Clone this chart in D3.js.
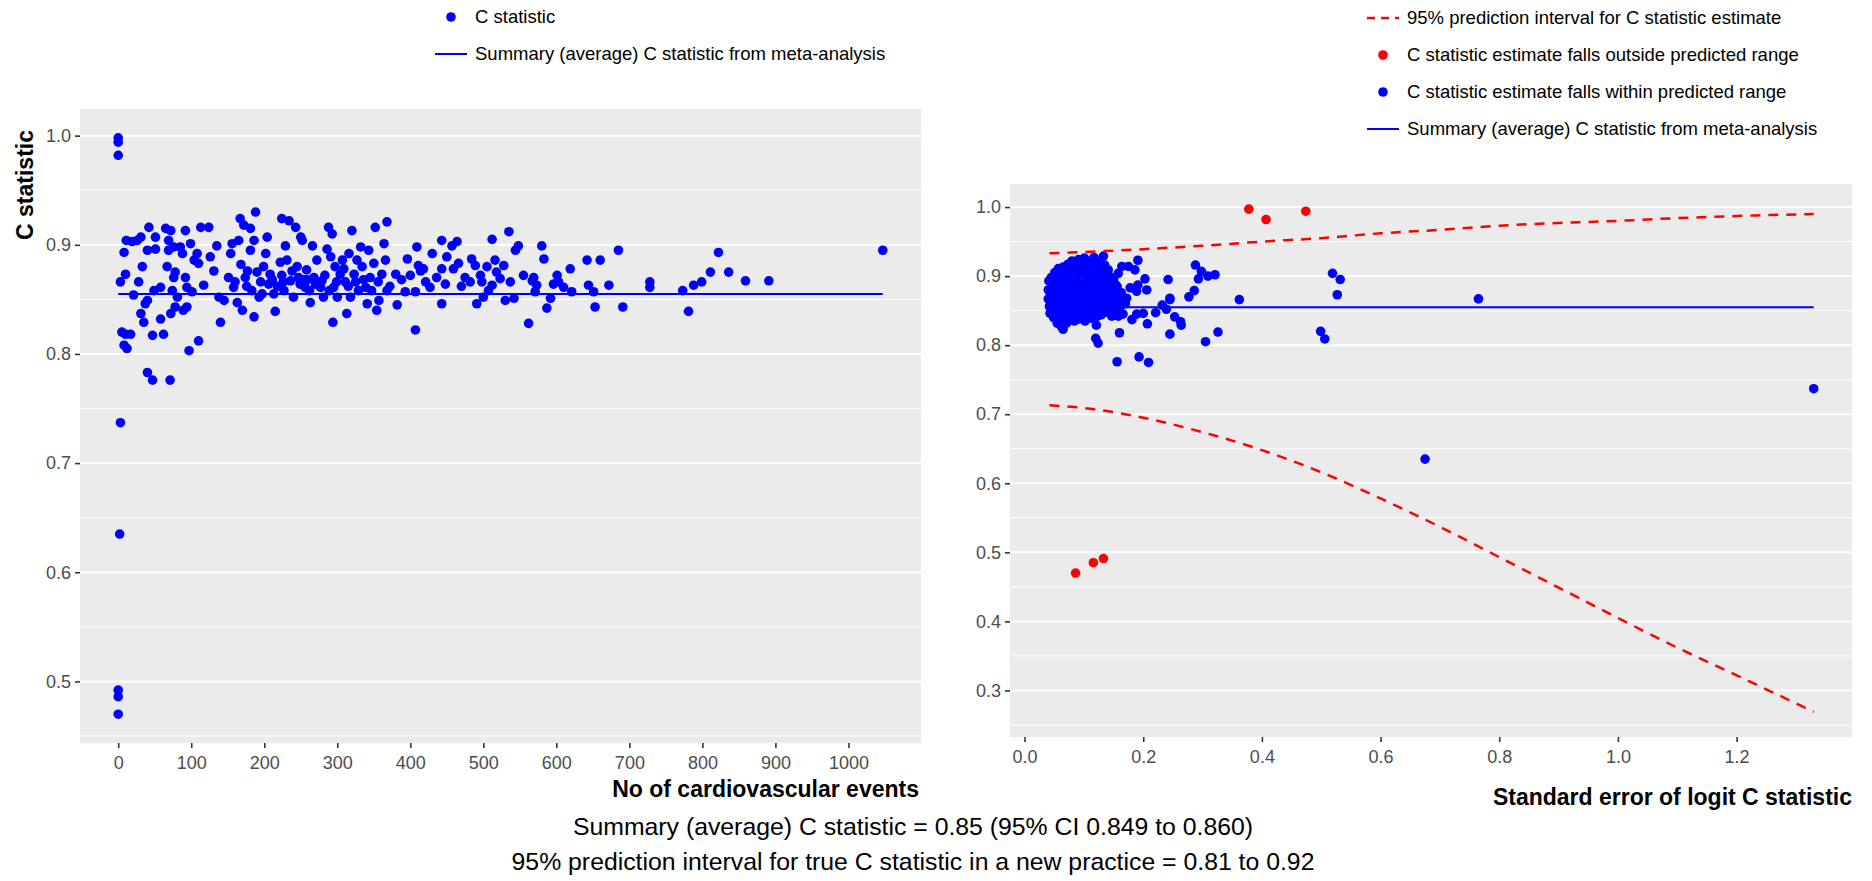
<!DOCTYPE html>
<html>
<head>
<meta charset="utf-8">
<script src="https://cdn.jsdelivr.net/npm/d3@7/dist/d3.min.js"></script>
<style>
body{margin:0;background:#fff;}
svg{display:block;font-family:"Liberation Sans",Arial,Helvetica,sans-serif;}
</style>
</head>
<body>
<div id="container"></div>
<script>
// summary C statistic from the meta-analysis
var summaryC=0.855;

// left plot: [no of cardiovascular events, C statistic]
var eventPoints=[
[0,0.998],[0,0.994],[0,0.982],[3,0.737],[2,0.635],[0,0.492],[0,0.486],[0,0.470],
[3,0.866],[10,0.873],[8,0.893],[11,0.904],[19,0.903],[21,0.854],[5,0.820],[10,0.818],[17,0.818],[8,0.808],[12,0.805],
[26,0.904],[31,0.907],[33,0.880],[28,0.866],[31,0.837],[35,0.829],[37,0.846],[40,0.849],[42,0.916],[40,0.895],
[51,0.907],[51,0.896],[49,0.858],[58,0.861],[58,0.832],[47,0.817],[40,0.783],[47,0.776],[62,0.818],
[65,0.915],[67,0.880],[69,0.904],[72,0.913],[69,0.895],[76,0.898],[76,0.870],[78,0.875],[74,0.858],[72,0.837],[78,0.843],[81,0.852],[71,0.776],
[85,0.898],[92,0.913],[88,0.892],[92,0.870],[94,0.861],[89,0.840],[94,0.843],[101,0.857],[97,0.803],[110,0.812],
[99,0.901],[104,0.886],[108,0.892],[110,0.883],[113,0.916],[117,0.863],[124,0.916],[126,0.889],[131,0.876],[135,0.899],[138,0.852],[140,0.829],[145,0.849],
[151,0.870],[154,0.892],[156,0.901],[158,0.861],[163,0.847],[165,0.904],[167,0.924],[170,0.840],[172,0.918],[174,0.870],[177,0.876],[181,0.915],[181,0.895],
[183,0.858],[186,0.904],[186,0.834],[188,0.930],[190,0.875],[193,0.852],[197,0.855],[202,0.892],[204,0.907],[206,0.864],[208,0.873],[213,0.855],[215,0.839],
[222,0.884],[224,0.924],[224,0.872],[227,0.858],[229,0.899],[231,0.886],[234,0.922],[236,0.867],[240,0.852],[243,0.916],[245,0.880],[247,0.870],[250,0.907],
[252,0.904],[254,0.868],[256,0.861],[259,0.868],[263,0.847],[266,0.899],[268,0.870],[272,0.886],[277,0.861],[279,0.867],[281,0.852],[286,0.896],[288,0.916],
[291,0.889],[293,0.910],[294,0.829],[295,0.861],[297,0.880],[300,0.852],[304,0.873],[307,0.886],[311,0.866],[313,0.837],[316,0.892],[318,0.852],[320,0.913],
[323,0.873],[327,0.886],[329,0.858],[332,0.898],[334,0.880],[339,0.861],[341,0.846],[343,0.895],[345,0.870],[350,0.883],[352,0.916],[354,0.840],[357,0.849],
[361,0.873],[364,0.901],[366,0.886],[368,0.921],[368,0.858],[380,0.873],[382,0.845],
[393,0.857],[396,0.887],[407,0.857],[407,0.822],[409,0.898],[411,0.881],[414,0.876],[418,0.878],[421,0.866],[427,0.861],[430,0.892],[443,0.904],[443,0.878],
[443,0.846],[448,0.864],[450,0.889],[457,0.899],[459,0.878],[464,0.903],[466,0.883],[475,0.870],[482,0.866],[484,0.887],[489,0.881],[491,0.846],[496,0.872],
[498,0.866],[500,0.852],[505,0.880],[507,0.858],[512,0.905],[512,0.863],[516,0.886],[523,0.869],[528,0.881],[530,0.849],[535,0.912],[537,0.866],[542,0.851],
[544,0.895],[548,0.899],[562,0.828],[567,0.867],[569,0.870],[571,0.857],[573,0.863],[580,0.899],[583,0.887],[587,0.842],[592,0.851],[601,0.872],[603,0.866],
[610,0.861],[619,0.878],[621,0.857],[642,0.886],[644,0.863],[651,0.857],[653,0.843],[660,0.886],[672,0.863],[685,0.895],[691,0.843],[728,0.866],[728,0.861],
[773,0.858],[781,0.839],[788,0.863],[799,0.866],[811,0.875],[822,0.893],[836,0.875],[859,0.867],[891,0.867],[1047,0.895],
// overlapping points in the dense middle of the cloud
[160,0.866],[168,0.882],[176,0.862],[195,0.866],[199,0.880],[211,0.868],[218,0.862],[226,0.866],[238,0.876],[249,0.864],
[258,0.877],[262,0.858],[270,0.864],[283,0.872],[289,0.858],[299,0.866],[309,0.878],[315,0.862],[325,0.866],[336,0.868],
[347,0.858],[356,0.866],[372,0.862],[388,0.868],[400,0.872],[436,0.870],[470,0.862],[518,0.875],[555,0.872],[596,0.864]
];

// right plot: [standard error of logit C, C statistic], inside the prediction interval
var seInside=[
[0.040,0.867],[0.040,0.880],[0.041,0.893],[0.042,0.856],[0.043,0.846],[0.044,0.872],[0.045,0.898],[0.047,0.862],[0.048,0.887],[0.049,0.840],
[0.050,0.876],[0.051,0.905],[0.052,0.851],[0.053,0.866],[0.054,0.893],[0.055,0.832],[0.056,0.882],[0.057,0.911],[0.058,0.858],[0.059,0.845],
[0.060,0.871],[0.061,0.899],[0.062,0.827],[0.063,0.886],[0.064,0.864],[0.065,0.913],[0.066,0.839],[0.067,0.852],[0.068,0.878],[0.069,0.903],
[0.070,0.868],[0.071,0.832],[0.072,0.890],[0.073,0.917],[0.074,0.846],[0.075,0.859],[0.076,0.881],[0.077,0.908],[0.078,0.838],[0.079,0.873],
[0.080,0.922],[0.081,0.895],[0.082,0.853],[0.083,0.866],[0.084,0.835],[0.085,0.884],[0.086,0.912],[0.087,0.847],[0.088,0.876],[0.089,0.900],
[0.090,0.861],[0.091,0.924],[0.092,0.838],[0.093,0.889],[0.094,0.870],[0.095,0.852],[0.096,0.915],[0.097,0.880],[0.098,0.843],[0.099,0.903],
[0.100,0.864],[0.101,0.926],[0.102,0.835],[0.103,0.892],[0.104,0.874],[0.105,0.856],[0.106,0.910],[0.107,0.884],[0.108,0.846],[0.109,0.920],
[0.110,0.868],[0.111,0.898],[0.112,0.839],[0.113,0.879],[0.114,0.858],[0.115,0.906],[0.116,0.887],[0.117,0.927],[0.118,0.849],[0.119,0.871],
[0.120,0.895],[0.121,0.862],[0.122,0.917],[0.123,0.842],[0.124,0.882],[0.125,0.903],[0.126,0.854],[0.127,0.873],[0.128,0.891],[0.129,0.844],
[0.130,0.866],[0.131,0.912],[0.132,0.880],[0.133,0.857],[0.134,0.897],[0.136,0.848],[0.137,0.871],[0.138,0.886],[0.139,0.862],[0.140,0.904],
[0.142,0.877],[0.143,0.851],[0.144,0.891],[0.146,0.866],[0.147,0.842],[0.148,0.881],[0.150,0.895],[0.151,0.858],[0.152,0.873],[0.154,0.848],
[0.156,0.885],[0.158,0.864],[0.160,0.853],[0.163,0.876],[0.166,0.845],[0.170,0.860],
[0.046,0.883],[0.050,0.860],[0.053,0.879],[0.056,0.869],[0.058,0.896],[0.061,0.850],[0.064,0.875],[0.066,0.890],[0.068,0.843],[0.071,0.861],
[0.073,0.899],[0.075,0.872],[0.078,0.884],[0.080,0.857],[0.082,0.910],[0.085,0.869],[0.087,0.893],[0.089,0.851],[0.092,0.877],[0.094,0.906],
[0.096,0.860],[0.098,0.889],[0.100,0.841],[0.102,0.913],[0.104,0.865],[0.106,0.899],[0.108,0.873],[0.110,0.852],[0.112,0.919],[0.114,0.884],
[0.116,0.866],[0.118,0.903],[0.120,0.845],[0.122,0.877],[0.124,0.861],[0.126,0.921],[0.128,0.869],[0.130,0.888],[0.132,0.846],[0.134,0.876],
[0.136,0.905],[0.138,0.859],[0.141,0.868],[0.145,0.855],[0.149,0.872],[0.153,0.888],[0.157,0.870],[0.162,0.858],
[0.191,0.923],[0.133,0.929],[0.242,0.895],[0.245,0.866],[0.245,0.816],[0.288,0.916],[0.293,0.896],[0.298,0.907],[0.309,0.900],[0.321,0.902],
[0.277,0.870],[0.286,0.879],[0.305,0.805],[0.326,0.819],[0.362,0.866],[0.519,0.904],[0.532,0.895],[0.527,0.873],[0.499,0.820],[0.506,0.809],
[0.675,0.635],[0.765,0.867],[1.330,0.737],
[0.156,0.776],[0.193,0.783],[0.209,0.775],[0.160,0.818],[0.120,0.810],[0.124,0.803],[0.121,0.829],[0.065,0.823],[0.207,0.831],[0.181,0.837],
[0.189,0.845],[0.200,0.846],[0.221,0.847],[0.253,0.841],[0.263,0.834],[0.264,0.829],[0.239,0.852],[0.232,0.858],[0.245,0.868],[0.158,0.842],
[0.172,0.868],[0.160,0.875],[0.189,0.878],[0.206,0.880],[0.178,0.883],[0.203,0.896],[0.191,0.887],[0.186,0.909],[0.175,0.914],[0.164,0.914],
[0.158,0.904],[0.144,0.899],[0.141,0.909],[0.135,0.916],[0.127,0.909]
];
// outside the prediction interval
var seOutside=[[0.378,0.997],[0.407,0.982],[0.474,0.994],[0.086,0.470],[0.116,0.485],[0.133,0.491]];

// 95% prediction interval
var curveSe=[0.042,0.1,0.2,0.3,0.4,0.5,0.6,0.7,0.8,0.9,1.0,1.1,1.2,1.33];
var curveUpper=[0.933,0.935,0.939,0.944,0.950,0.955,0.962,0.967,0.973,0.977,0.980,0.984,0.987,0.990];
var curveLower=[0.713,0.709,0.695,0.674,0.648,0.616,0.578,0.537,0.493,0.449,0.405,0.362,0.322,0.269];

var leftXTicks=[0,100,200,300,400,500,600,700,800,900,1000];
var leftYTicks=[0.5,0.6,0.7,0.8,0.9,1.0];
var leftYMinor=[0.45,0.55,0.65,0.75,0.85,0.95];
var rightXTicks=[0,0.2,0.4,0.6,0.8,1.0,1.2];
var rightYTicks=[0.3,0.4,0.5,0.6,0.7,0.8,0.9,1.0];
var rightYMinor=[0.25,0.35,0.45,0.55,0.65,0.75,0.85,0.95];

var width=1872, height=881;
var BLUE='#0000ff', RED='#ff0000';

var svg=d3.select('#container').append('svg')
  .attr('width',width).attr('height',height)
  .style('background','#fff');

function expand(ext){
  var d=(ext[1]-ext[0])*0.05;
  return [ext[0]-d, ext[1]+d];
}

function panel(box, xDomain, yDomain, xTicks, xFmt, yTicks, yMinor){
  var x=d3.scaleLinear().domain(xDomain).range([box.l,box.r]);
  var y=d3.scaleLinear().domain(yDomain).range([box.b,box.t]);
  var g=svg.append('g');
  g.append('rect').attr('x',box.l).attr('y',box.t)
    .attr('width',box.r-box.l).attr('height',box.b-box.t).attr('fill','#ebebeb');
  g.selectAll('.minor').data(yMinor.filter(function(v){return v>yDomain[0]&&v<yDomain[1];}))
    .enter().append('line')
    .attr('x1',box.l).attr('x2',box.r)
    .attr('y1',function(d){return y(d);}).attr('y2',function(d){return y(d);})
    .attr('stroke','#fff').attr('stroke-width',1);
  g.selectAll('.major').data(yTicks)
    .enter().append('line')
    .attr('x1',box.l).attr('x2',box.r)
    .attr('y1',function(d){return y(d);}).attr('y2',function(d){return y(d);})
    .attr('stroke','#fff').attr('stroke-width',2);

  var ya=g.append('g').attr('transform','translate('+box.l+',0)')
    .call(d3.axisLeft(y).tickValues(yTicks).tickFormat(d3.format('.1f')).tickSize(5).tickPadding(4));
  var xa=g.append('g').attr('transform','translate(0,'+box.b+')')
    .call(d3.axisBottom(x).tickValues(xTicks).tickFormat(xFmt).tickSize(5).tickPadding(8));
  [ya,xa].forEach(function(a){
    a.select('.domain').remove();
    a.selectAll('line').attr('stroke','#333').attr('stroke-width',1.6);
    a.selectAll('text').attr('fill','#4d4d4d').style('font-size','18px')
      .style('font-family','"Liberation Sans",Arial,sans-serif');
  });
  return {x:x,y:y,g:g};
}

// ---------- left panel ----------
var lb={l:80,r:921,t:109,b:743};
var L=panel(lb,
  expand(d3.extent(eventPoints,function(d){return d[0];})),
  expand(d3.extent(eventPoints,function(d){return d[1];})),
  leftXTicks,d3.format('d'),leftYTicks,leftYMinor);

L.g.selectAll('circle').data(eventPoints).enter().append('circle')
  .attr('cx',function(d){return L.x(d[0]);})
  .attr('cy',function(d){return L.y(d[1]);})
  .attr('r',4.8).attr('fill',BLUE);

var evExt=d3.extent(eventPoints,function(d){return d[0];});
L.g.append('line')
  .attr('x1',L.x(evExt[0])).attr('x2',L.x(evExt[1]))
  .attr('y1',L.y(summaryC)).attr('y2',L.y(summaryC))
  .attr('stroke',BLUE).attr('stroke-width',2);

svg.append('text').text('C statistic')
  .attr('transform','translate(33,130) rotate(-90)')
  .attr('text-anchor','end').style('font-weight','bold').style('font-size','23px');

svg.append('text').text('No of cardiovascular events')
  .attr('x',lb.r-2).attr('y',797).attr('text-anchor','end')
  .style('font-weight','bold').style('font-size','23px');

// ---------- right panel ----------
var allRight=seInside.concat(seOutside);
var rx=d3.extent(allRight.map(function(d){return d[0];}).concat(curveSe));
var ry=d3.extent(allRight.map(function(d){return d[1];}).concat(curveUpper,curveLower));
var rb={l:1010,r:1852,t:184,b:737};
var R=panel(rb,expand(rx),expand(ry),rightXTicks,d3.format('.1f'),rightYTicks,rightYMinor);

var curveLine=d3.line()
  .x(function(d){return R.x(d[0]);})
  .y(function(d){return R.y(d[1]);})
  .curve(d3.curveMonotoneX);

R.g.selectAll('.inside').data(seInside).enter().append('circle')
  .attr('cx',function(d){return R.x(d[0]);})
  .attr('cy',function(d){return R.y(d[1]);})
  .attr('r',4.8).attr('fill',BLUE);
R.g.selectAll('.outside').data(seOutside).enter().append('circle')
  .attr('cx',function(d){return R.x(d[0]);})
  .attr('cy',function(d){return R.y(d[1]);})
  .attr('r',4.8).attr('fill',RED);

[curveUpper,curveLower].forEach(function(c){
  R.g.append('path')
    .datum(curveSe.map(function(s,i){return [s,c[i]];}))
    .attr('d',curveLine).attr('fill','none')
    .attr('stroke',RED).attr('stroke-width',2.5).attr('stroke-dasharray','10,8');
});

R.g.append('line')
  .attr('x1',R.x(rx[0])).attr('x2',R.x(rx[1]))
  .attr('y1',R.y(summaryC)).attr('y2',R.y(summaryC))
  .attr('stroke',BLUE).attr('stroke-width',2);

svg.append('text').text('Standard error of logit C statistic')
  .attr('x',rb.r).attr('y',805).attr('text-anchor','end')
  .style('font-weight','bold').style('font-size','23px');

// ---------- legends ----------
function legend(x,rows){
  var g=svg.append('g');
  rows.forEach(function(r){
    if(r.type==='point'){
      g.append('circle').attr('cx',x+16).attr('cy',r.y).attr('r',4.8).attr('fill',r.color);
    }else{
      g.append('line').attr('x1',x).attr('x2',x+32).attr('y1',r.y).attr('y2',r.y)
        .attr('stroke',r.color).attr('stroke-width',r.dash?2.5:2)
        .attr('stroke-dasharray',r.dash?'8,6':null);
    }
    g.append('text').text(r.label).attr('x',x+40).attr('y',r.y).attr('dy','0.35em')
      .style('font-size','18.5px');
  });
}
legend(435,[
  {type:'point',color:BLUE,y:17,label:'C statistic'},
  {type:'line',color:BLUE,y:54,label:'Summary (average) C statistic from meta-analysis'}
]);
legend(1367,[
  {type:'line',color:RED,dash:true,y:18,label:'95% prediction interval for C statistic estimate'},
  {type:'point',color:RED,y:55,label:'C statistic estimate falls outside predicted range'},
  {type:'point',color:BLUE,y:92,label:'C statistic estimate falls within predicted range'},
  {type:'line',color:BLUE,y:129,label:'Summary (average) C statistic from meta-analysis'}
]);

// ---------- footer ----------
svg.append('text').text('Summary (average) C statistic = 0.85 (95% CI 0.849 to 0.860)')
  .attr('x',913).attr('y',835).attr('text-anchor','middle').style('font-size','24.8px');
svg.append('text').text('95% prediction interval for true C statistic in a new practice = 0.81 to 0.92')
  .attr('x',913).attr('y',870).attr('text-anchor','middle').style('font-size','24.8px');
</script>
</body>
</html>
